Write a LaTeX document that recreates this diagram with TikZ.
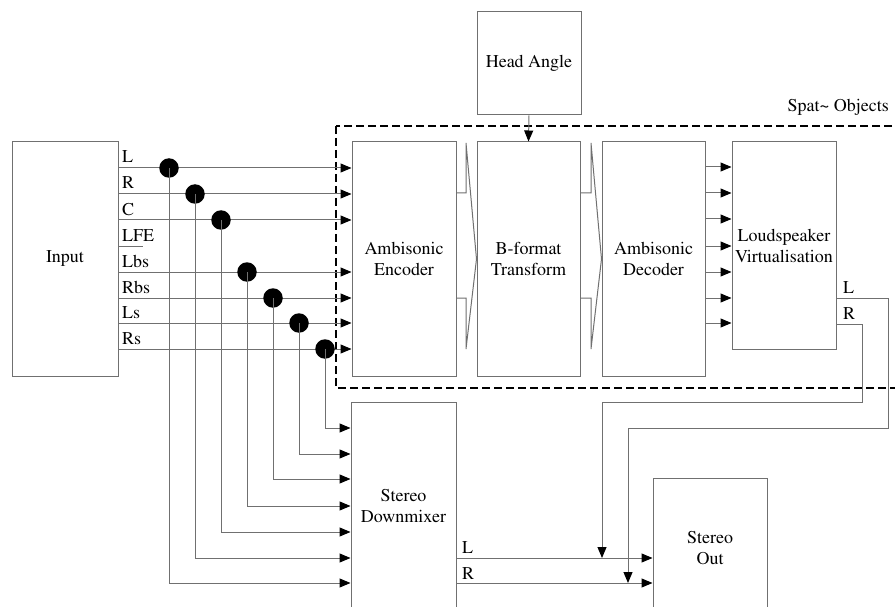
\documentclass[tikz,border=0pt]{standalone}
\usepackage[T1]{fontenc}
\usepackage{times}
\usetikzlibrary{arrows.meta,calc}
\definecolor{linec}{HTML}{707070}
\begin{document}
\begin{tikzpicture}[x=1pt,y=-1pt,
  box/.style={draw=linec, line width=1pt, fill=white, align=center, font=\rmfamily\fontsize{18}{21}\selectfont, inner sep=0pt},
  wire/.style={draw=linec, line width=1pt},
  arr/.style={wire, -{Triangle[length=11pt,width=9pt,color=black]}},
  lab/.style={font=\rmfamily\fontsize{18}{21}\selectfont, inner sep=0pt, anchor=base west},
  tapdot/.style={circle, fill=black, minimum size=19.5pt, inner sep=0pt},
  spat/.style={draw=black, line width=2.5pt, dash pattern=on 8pt off 4pt}
]
\useasboundingbox (0,0) rectangle (895,607);
\clip (0,0) rectangle (895,607);
\fill[white] (0,0) rectangle (895,607);

% dashed group
\draw[spat] (336,126) rectangle (910,388);
\node[lab, anchor=base east] (spatlab) at (889,112) {Spat\textasciitilde{} Objects};

% boxes
\node[box, minimum width=106pt, minimum height=234pt] (in) at (65,259) {Input};
\node[box, minimum width=104pt, minimum height=234pt] (enc) at (404,259) {Ambisonic\\Encoder};
\node[box, minimum width=103pt, minimum height=234pt] (bf) at (528.5,259) {B-format\\Transform};
\node[box, minimum width=103pt, minimum height=234pt] (dec) at (653.5,259) {Ambisonic\\Decoder};
\node[box, minimum width=104pt, minimum height=207pt] (ls) at (784,245.5) {Loudspeaker\\Virtualisation};
\node[box, minimum width=104pt, minimum height=103pt] (ha) at (529,63.5) {Head Angle};
\node[box, minimum width=105pt, minimum height=208pt] (dm) at (403.5,506) {Stereo\\Downmixer};
\node[box, minimum width=114pt, minimum height=140pt] (so) at (710,548) {Stereo\\Out};

% head angle arrow
\draw[arr] (ha.south) -- (bf.north);

% fat arrows
\draw[wire] (enc.east |- 0,193) -- (466,193) -- (466,143) -- (bf.west) -- (466,349) -- (466,298) -- (enc.east |- 0,298);
\draw[wire] (bf.east |- 0,193) -- (591,193) -- (591,143) -- (dec.west) -- (591,349) -- (591,298) -- (bf.east |- 0,298);

% decoder to loudspeaker
\foreach \yy in {167,193,219,246,272,298,323}
  \draw[arr] (dec.east |- 0,\yy) -- (ls.west |- 0,\yy);

% channel labels
\node[lab] (lL)   at (122,163) {L};
\node[lab] (lR)   at (122,189) {R};
\node[lab] (lC)   at (122,215) {C};
\node[lab] (lLFE) at (122,241) {LFE};
\node[lab] (lLbs) at (122,267) {Lbs};
\node[lab] (lRbs) at (122,293) {Rbs};
\node[lab] (lLs)  at (122,318) {Ls};
\node[lab] (lRs)  at (122,344) {Rs};

% LFE stub
\draw[wire] (in.east |- 0,246) -- (143,246);

% channels with taps: y, tap x, downmixer row y
\foreach \yy/\xx/\ry/\nm in {168/169/583/a, 194/195/558/b, 220/221/532/c, 272/247/506/d, 298/273/479/e, 323/299/454/f, 349/325/428/g}{
  \draw[arr] (in.east |- 0,\yy) -- (enc.west |- 0,\yy);
  \node[tapdot] (t\nm) at (\xx,\yy) {};
  \draw[arr] (t\nm.center) -- (\xx,\ry) -- (dm.west |- 0,\ry);
}

% downmixer outputs
\node[lab] (dL) at (462,553) {L};
\node[lab] (dR) at (462,579) {R};
\draw[arr] (dm.east |- 0,558) -- (so.west |- 0,558);
\draw[arr] (dm.east |- 0,583) -- (so.west |- 0,583);

% loudspeaker outputs
\node[lab] (oL) at (843,293) {L};
\node[lab] (oR) at (843,319) {R};
\coordinate (jl) at (628,583);
\coordinate (jr) at (602,558);
\draw[arr] (ls.east |- 0,298) -- (888,298) -- (888,428) -- (628,428) -- (jl);
\draw[arr] (ls.east |- 0,324) -- (862,324) -- (862,402) -- (602,402) -- (jr);
\end{tikzpicture}
\end{document}
